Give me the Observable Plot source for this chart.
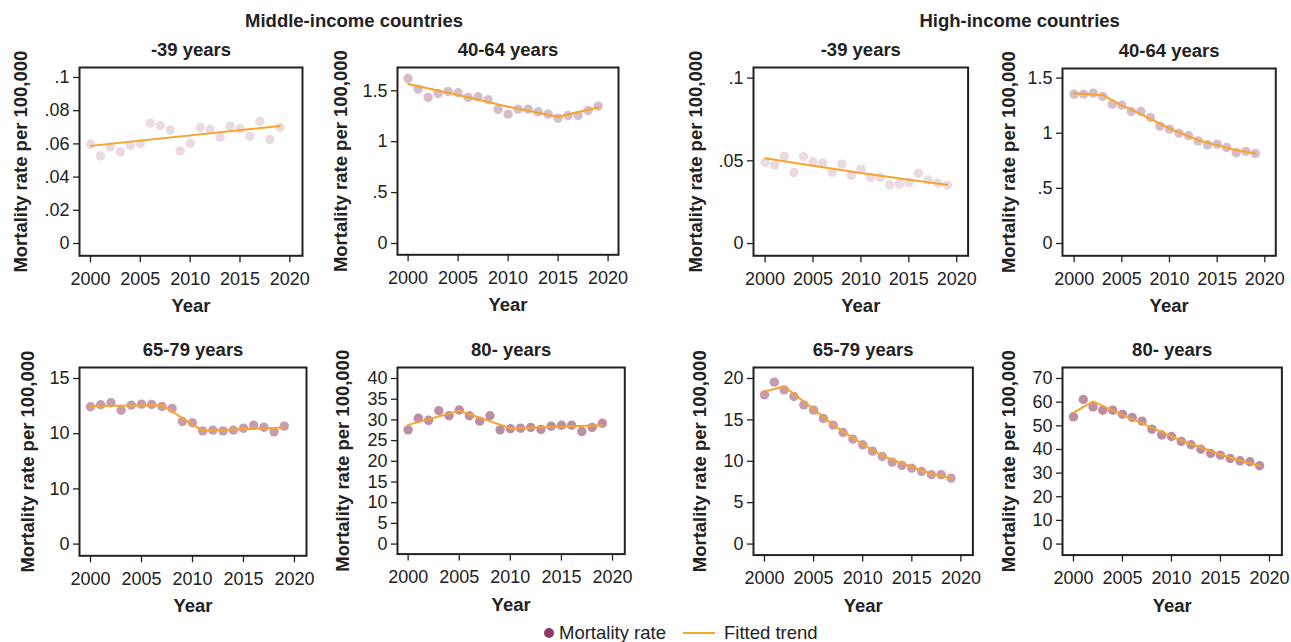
<!DOCTYPE html>
<html>
<head>
<meta charset="utf-8">
<script src="https://cdn.jsdelivr.net/npm/d3@7"></script>
<script src="https://cdn.jsdelivr.net/npm/@observablehq/plot@0.6"></script>
<style>
  html, body { margin: 0; padding: 0; background: #fff; }
  #chart { position: relative; width: 1291px; height: 642px; overflow: hidden;
           font-family: "Liberation Sans", Arial, Helvetica, sans-serif; color: #222; }
  #chart svg { position: absolute; overflow: visible; }
  .grp { position: absolute; font-weight: bold; font-size: 18.5px; white-space: nowrap;
         transform: translate(-50%, -50%); line-height: 1; }
  .leg { position: absolute; white-space: nowrap; font-size: 18.5px; line-height: 1; transform: translateY(-50%); }
</style>
</head>
<body>
<div id="chart"></div>
<script>
// ---------------- data ----------------
const years = [2000,2001,2002,2003,2004,2005,2006,2007,2008,2009,2010,2011,2012,2013,2014,2015,2016,2017,2018,2019];
const incomeGroups = ["Middle-income countries", "High-income countries"];
const ageGroups = ["-39 years", "40-64 years", "65-79 years", "80- years"];
const xTicks = [2000, 2005, 2010, 2015, 2020];
const xLabel = "Year";
const yLabel = "Mortality rate per 100,000";
const legendLabels = ["Mortality rate", "Fitted trend"];

// Middle-income countries
const midRate39   = [0.0598,0.0528,0.0582,0.0552,0.0592,0.0602,0.0725,0.0711,0.0683,0.0558,0.0602,0.0699,0.0687,0.0639,0.0707,0.0691,0.0645,0.0735,0.0627,0.0699];
const midRate4064 = [1.621,1.517,1.435,1.474,1.494,1.481,1.435,1.441,1.412,1.317,1.271,1.320,1.320,1.294,1.271,1.232,1.258,1.258,1.307,1.350];
const midRate6579 = [12.44,12.62,12.80,12.13,12.59,12.68,12.65,12.47,12.29,11.11,10.99,10.26,10.32,10.26,10.32,10.50,10.78,10.59,10.17,10.69];
const midRate80   = [27.6,30.4,29.9,32.2,31.0,32.4,31.0,29.7,31.0,27.6,27.9,28.0,28.2,27.7,28.5,28.7,28.7,27.2,28.2,29.2];

const midTrend39Years   = [2000, 2019];
const midTrend39        = [0.0588, 0.0707];
const midTrend4064Years = [2000, 2005, 2010, 2015, 2019];
const midTrend4064      = [1.566, 1.458, 1.343, 1.245, 1.336];
const midTrend6579Years = [2000, 2007, 2011, 2019];
const midTrend6579      = [12.50, 12.58, 10.26, 10.56];
const midTrend80Years   = [2000, 2005, 2010, 2019];
const midTrend80        = [28.8, 32.2, 28.0, 28.7];

// High-income countries
const highRate39   = [0.0490,0.0474,0.0526,0.0429,0.0526,0.0494,0.0486,0.0431,0.0480,0.0411,0.0448,0.0399,0.0399,0.0355,0.0361,0.0369,0.0425,0.0385,0.0365,0.0353];
const highRate4064 = [1.355,1.355,1.364,1.334,1.264,1.255,1.197,1.197,1.143,1.064,1.037,1.001,0.977,0.931,0.895,0.901,0.871,0.823,0.835,0.816];
const highRate6579 = [18.03,19.56,18.63,17.83,16.82,16.18,15.17,14.37,13.48,12.68,11.99,11.23,10.58,9.90,9.50,9.17,8.77,8.37,8.37,7.97];
const highRate80   = [53.8,61.1,58.0,56.6,56.6,54.9,53.5,52.0,48.6,46.1,45.5,43.4,42.0,40.1,38.3,37.6,36.2,35.2,34.8,33.1];

const highTrend39Years   = [2000, 2005, 2010, 2015, 2019];
const highTrend39        = [0.0516, 0.0470, 0.0427, 0.0386, 0.0355];
const highTrend4064Years = [2000, 2003, 2005, 2007, 2010, 2013, 2015, 2017, 2019];
const highTrend4064      = [1.361, 1.346, 1.252, 1.173, 1.043, 0.937, 0.892, 0.847, 0.816];
const highTrend6579Years = [2000, 2002, 2005, 2007, 2010, 2012, 2015, 2017, 2019];
const highTrend6579      = [18.43, 19.03, 16.3, 14.37, 12.07, 10.66, 9.34, 8.53, 7.89];
const highTrend80Years   = [2000, 2002, 2005, 2007, 2010, 2012, 2015, 2017, 2019];
const highTrend80        = [55.6, 60.3, 54.5, 51.0, 45.5, 42.3, 38.0, 35.2, 33.1];

// y-axis ticks and their labels (as printed in the figure)
const yTicks39   = [0, 0.02, 0.04, 0.06, 0.08, 0.1];
const yLabels39  = ["0", ".02", ".04", ".06", ".08", ".1"];
const yTicks4064 = [0, 0.5, 1, 1.5];
const yLabels4064 = ["0", ".5", "1", "1.5"];
const yTicksHigh39  = [0, 0.05, 0.1];
const yLabelsHigh39 = ["0", ".05", ".1"];
const yTicksMid6579  = [0, 5, 10, 15];
const yLabelsMid6579 = ["0", "10", "10", "15"];
const yTicksMid80  = [0, 5, 10, 15, 20, 25, 30, 35, 40];
const yLabelsMid80 = ["0", "5", "10", "15", "20", "25", "30", "35", "40"];
const yTicksHigh6579  = [0, 5, 10, 15, 20];
const yLabelsHigh6579 = ["0", "5", "10", "15", "20"];
const yTicksHigh80  = [0, 10, 20, 30, 40, 50, 60, 70];
const yLabelsHigh80 = ["0", "10", "20", "30", "40", "50", "60", "70"];

// ---------------- panels (layout + styling) ----------------
const DOT = "#8b3a62";
const LINE = "#f6a52c";
const INK = "#222";

const panels = [
  {title: ageGroups[0], rate: midRate39,  tY: midTrend39Years,  t: midTrend39,  ticks: yTicks39,  labels: yLabels39,
   op: 0.18, left: 79,    top: 66.7,  w: 223,   h: 188.3, xd: [1998.90, 2021.27], yd: [-0.0074, 0.106], ylx: -58.5},
  {title: ageGroups[1], rate: midRate4064, tY: midTrend4064Years, t: midTrend4064, ticks: yTicks4064, labels: yLabels4064,
   op: 0.34, left: 396.7, top: 66.7,  w: 221,   h: 187.3, xd: [1998.94, 2021.04], yd: [-0.111, 1.729], ylx: -56},
  {title: ageGroups[0], rate: highRate39, tY: highTrend39Years, t: highTrend39, ticks: yTicksHigh39, labels: yLabelsHigh39,
   op: 0.18, left: 752.7, top: 66.7,  w: 214.6, h: 188.3, xd: [1998.79, 2021.18], yd: [-0.0074, 0.1064], ylx: -57},
  {title: ageGroups[1], rate: highRate4064, tY: highTrend4064Years, t: highTrend4064, ticks: yTicks4064, labels: yLabels4064,
   op: 0.34, left: 1061.7, top: 67.7, w: 213.3, h: 187.3, xd: [1998.78, 2021.15], yd: [-0.1115, 1.587], ylx: -53.7},
  {title: ageGroups[2], rate: midRate6579, tY: midTrend6579Years, t: midTrend6579, ticks: yTicksMid6579, labels: yLabelsMid6579,
   op: 0.50, left: 79,    top: 366.7, w: 227,   h: 188.3, xd: [1998.92, 2021.18], yd: [-1.06, 15.996], ylx: -51.5},
  {title: ageGroups[3], rate: midRate80, tY: midTrend80Years, t: midTrend80, ticks: yTicksMid80, labels: yLabelsMid80,
   op: 0.58, left: 396.7, top: 366.7, w: 227.3, h: 186.6, xd: [1998.96, 2021.20], yd: [-2.42, 42.66], ylx: -54},
  {title: ageGroups[2], rate: highRate6579, tY: highTrend6579Years, t: highTrend6579, ticks: yTicksHigh6579, labels: yLabelsHigh6579,
   op: 0.50, left: 753.3, top: 366.7, w: 219.4, h: 187.6, xd: [1998.88, 2021.22], yd: [-1.33, 21.33], ylx: -53},
  {title: ageGroups[3], rate: highRate80, tY: highTrend80Years, t: highTrend80, ticks: yTicksHigh80, labels: yLabelsHigh80,
   op: 0.58, left: 1062.3, top: 366.7, w: 219.4, h: 187.6, xd: [1998.88, 2021.27], yd: [-4.65, 74.65], ylx: -53}
];

const chart = document.getElementById("chart");
const ML = 70, MR = 20, MT = 35, MB = 70;
const FONT = '"Liberation Sans", Arial, Helvetica, sans-serif';

panels.forEach(p => {
  const pts = years.map((yr, i) => ({year: yr, rate: p.rate[i]}));
  const trend = p.tY.map((yr, i) => ({year: yr, value: p.t[i]}));
  const svg = Plot.plot({
    width: p.w + ML + MR,
    height: p.h + MT + MB,
    marginLeft: ML, marginRight: MR, marginTop: MT, marginBottom: MB,
    style: {fontSize: "18px", fontFamily: FONT, color: INK, background: "transparent", overflow: "visible"},
    x: {domain: p.xd},
    y: {domain: p.yd},
    marks: [
      Plot.axisX({ticks: xTicks, tickFormat: d => String(d), tickSize: 7, tickPadding: 9, label: null, fontSize: 18, strokeWidth: 1.3}),
      Plot.axisY({ticks: p.ticks, tickFormat: d => p.labels[p.ticks.indexOf(d)], tickSize: 6, tickPadding: 4, label: null, fontSize: 18, strokeWidth: 1.3}),
      Plot.dot(pts, {x: "year", y: "rate", r: 4.7, fill: DOT, fillOpacity: p.op, stroke: "none"}),
      Plot.line(trend, {x: "year", y: "value", stroke: LINE, strokeWidth: 2}),
      Plot.frame({stroke: INK, strokeWidth: 2}),
      Plot.text([p.title], {frameAnchor: "top", dy: -17.4, textAnchor: "middle", lineAnchor: "middle", fontWeight: "bold", fontSize: 18.5, fill: INK}),
      Plot.text([xLabel], {frameAnchor: "bottom", dy: 50.5, textAnchor: "middle", lineAnchor: "middle", fontWeight: "bold", fontSize: 18.5, fill: INK}),
      Plot.text([yLabel], {frameAnchor: "left", dx: p.ylx, rotate: -90, textAnchor: "middle", lineAnchor: "middle", fontWeight: "bold", fontSize: 18.5, fill: INK})
    ]
  });
  svg.style.left = (p.left - ML) + "px";
  svg.style.top = (p.top - MT) + "px";
  chart.appendChild(svg);
});

// group headers
[[incomeGroups[0], 354, 21], [incomeGroups[1], 1019.7, 21]].forEach(([txt, x, y]) => {
  const d = document.createElement("div");
  d.className = "grp";
  d.textContent = txt;
  d.style.left = x + "px";
  d.style.top = y + "px";
  chart.appendChild(d);
});

// legend
const legY = 633;
const dot = document.createElement("div");
Object.assign(dot.style, {position: "absolute", left: "544px", top: (legY - 5) + "px", width: "10px", height: "10px",
  borderRadius: "50%", background: DOT});
chart.appendChild(dot);
const t1 = document.createElement("div");
t1.className = "leg"; t1.textContent = legendLabels[0];
t1.style.left = "559px"; t1.style.top = legY + "px";
chart.appendChild(t1);
const ln = document.createElement("div");
Object.assign(ln.style, {position: "absolute", left: "683px", top: (legY - 1) + "px", width: "32px", height: "2px", background: LINE});
chart.appendChild(ln);
const t2 = document.createElement("div");
t2.className = "leg"; t2.textContent = legendLabels[1];
t2.style.left = "724px"; t2.style.top = legY + "px";
chart.appendChild(t2);
</script>
</body>
</html>
